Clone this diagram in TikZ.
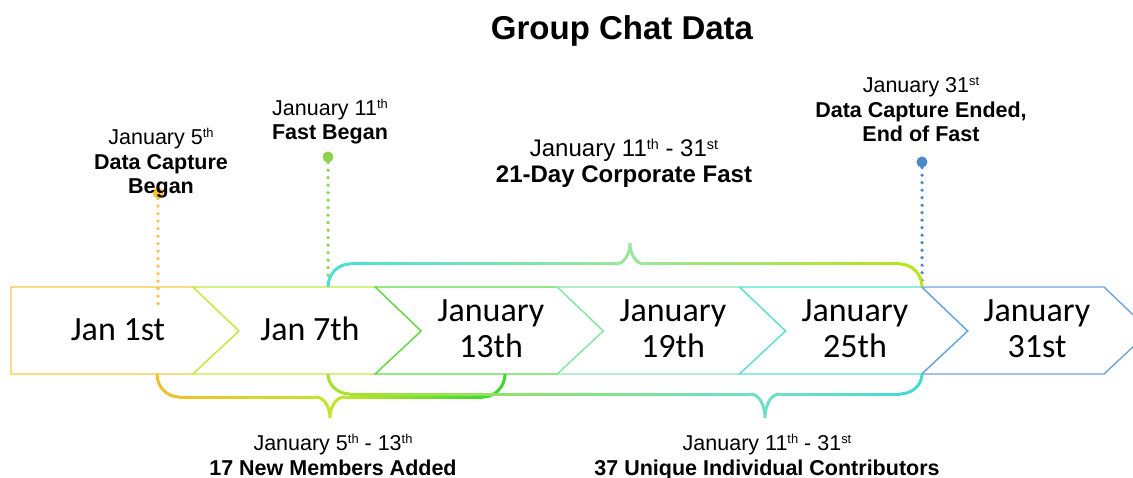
\documentclass[tikz,border=0pt]{standalone}
\usepackage{fontspec}
\setmainfont{Liberation Sans}
\newfontfamily\chevfont{Carlito}
\newcommand{\sups}[1]{\raisebox{0.62ex}{\fontsize{0.6em}{0.6em}\selectfont #1}}
\definecolor{ch1}{HTML}{F5C84A}
\definecolor{ch2}{HTML}{C3EA45}
\definecolor{ch3}{HTML}{5FD94A}
\definecolor{ch4}{HTML}{8FE6B4}
\definecolor{ch5}{HTML}{5EE0D6}
\definecolor{ch6}{HTML}{6FA3DC}
\definecolor{dotO}{HTML}{F5C242}
\definecolor{dotG}{HTML}{8DD14F}
\definecolor{dotB}{HTML}{4A88C8}
\definecolor{tL}{HTML}{4DDFD3}
\definecolor{tM}{HTML}{9BE69A}
\definecolor{tR}{HTML}{B5E51D}
\definecolor{aL}{HTML}{F0C02A}
\definecolor{aM}{HTML}{C2E52A}
\definecolor{aR}{HTML}{3FD82A}
\definecolor{bL}{HTML}{A5E22C}
\definecolor{bM}{HTML}{6FE0C6}
\definecolor{bR}{HTML}{45DBD3}
\tikzset{
  chev/.style={fill=white, line width=1.4pt, line join=miter},
  chevtext/.style={font=\chevfont\fontsize{34}{36}\selectfont, align=center, anchor=base, inner sep=0pt, text=black},
  lbl/.style={font=\fontsize{21.5}{24.5}\selectfont, align=center, anchor=base, inner sep=0pt, text=black},
  bracestyle/.style={line width=3pt},
  dotline/.style={line width=3.6pt, line cap=round, dash pattern=on 0pt off 7.5pt},
  enddot/.style={circle, inner sep=0pt, minimum size=11pt}
}
% gradient horizontal line: x1, x2, y, colour1, colour2
\newcommand{\gline}[5]{%
  \foreach \i in {0,...,19}{%
    \pgfmathsetmacro{\xa}{(#1)+((#2)-(#1))*\i/20}%
    \pgfmathsetmacro{\xb}{(#1)+((#2)-(#1))*(\i+1)/20+0.3}%
    \pgfmathtruncatemacro{\pp}{100-100*(\i+0.5)/20}%
    \draw[bracestyle, color={#4!\pp!#5}] (\xa,#3) -- (\xb,#3);
  }}
% brace: x1, x2, xtip, base, level, peak, cL, cM, cR
\newcommand{\mybrace}[9]{%
  \draw[bracestyle, #7] (#1,#4) .. controls (#1,{(#4)+0.552*((#5)-(#4))}) and ({(#1)+9.86},#5) .. ({(#1)+22},#5);
  \gline{(#1)+22}{(#3)-14}{#5}{#7}{#8}
  \draw[bracestyle, #8] ({(#3)-14.3},#5) .. controls ({(#3)-6.3},#5) and (#3,{(#6)+0.552*((#5)-(#6))}) .. (#3,#6)
     .. controls (#3,{(#6)+0.552*((#5)-(#6))}) and ({(#3)+6.3},#5) .. ({(#3)+14.3},#5);
  \gline{(#3)+14}{(#2)-22}{#5}{#8}{#9}
  \draw[bracestyle, #9] ({(#2)-22.3},#5) .. controls ({(#2)-9.86},#5) and (#2,{(#4)+0.552*((#5)-(#4))}) .. (#2,#4);
}
\begin{document}
\begin{tikzpicture}[x=1pt,y=-1pt]
\useasboundingbox (0,0) rectangle (1133,478);
\clip (0,0) rectangle (1133,478);

% chevrons
\draw[chev, draw=ch1] (11,287) -- (193,287) -- (239,331) -- (193,374) -- (11,374) -- cycle;
\foreach \n/\c in {193/ch2, 375.2/ch3, 557.4/ch4, 739.6/ch5, 921.8/ch6}{
  \draw[chev, draw=\c] (\n,287) -- ({\n+182.2},287) -- ({\n+228.2},331) -- ({\n+182.2},374) -- (\n,374) -- ({\n+46},331) -- cycle;
}

% chevron texts
\node[chevtext] (c1) at (118,341) {Jan 1st};
\node[chevtext] (c2) at (310,341) {Jan 7th};
\node[chevtext] (c3) at (491,358) {January\\13th};
\node[chevtext] (c4) at (673,358) {January\\19th};
\node[chevtext] (c5) at (855,358) {January\\25th};
\node[chevtext] (c6) at (1037,358) {January\\31st};

% dotted markers
\node[enddot, fill=dotO] (d1) at (158,193) {};
\coordinate (d1e) at (158,305);
\draw[dotline, dotO] (d1) -- (d1e);
\node[enddot, fill=dotG] (d2) at (328,157) {};
\coordinate (d2e) at (328,287);
\draw[dotline, dotG] (d2) -- (d2e);
\node[enddot, fill=dotB] (d3) at (922,162) {};
\coordinate (d3e) at (922,287);
\draw[dotline, dotB] (d3) -- (d3e);

% braces
\mybrace{328}{922}{630}{287}{264}{243}{tL}{tM}{tR}
\mybrace{157}{505}{330}{374}{397}{418}{aL}{aM}{aR}
\mybrace{328}{922}{765}{374}{394}{418}{bL}{bM}{bR}

% title and labels
\node[font=\bfseries\fontsize{33}{38}\selectfont, anchor=base, inner sep=0pt] (title) at (622,40) {Group Chat Data};
\node[lbl] (l1) at (161,194) {January 5\sups{th}\\\textbf{Data Capture}\\\textbf{Began}};
\node[lbl] (l2) at (330,140) {January 11\sups{th}\\\textbf{Fast Began}};
\node[lbl, font=\fontsize{24}{26}\selectfont] (l3) at (624,183) {January 11\sups{th} - 31\sups{st}\\\textbf{21-Day Corporate Fast}};
\node[lbl] (l4) at (921,142) {January 31\sups{st}\\\textbf{Data Capture Ended,}\\\textbf{End of Fast}};
\node[lbl] (l5) at (333,475) {January 5\sups{th} - 13\sups{th}\\\textbf{17 New Members Added}};
\node[lbl] (l6) at (767,475) {January 11\sups{th} - 31\sups{st}\\\textbf{37 Unique Individual Contributors}};
\end{tikzpicture}
\end{document}
